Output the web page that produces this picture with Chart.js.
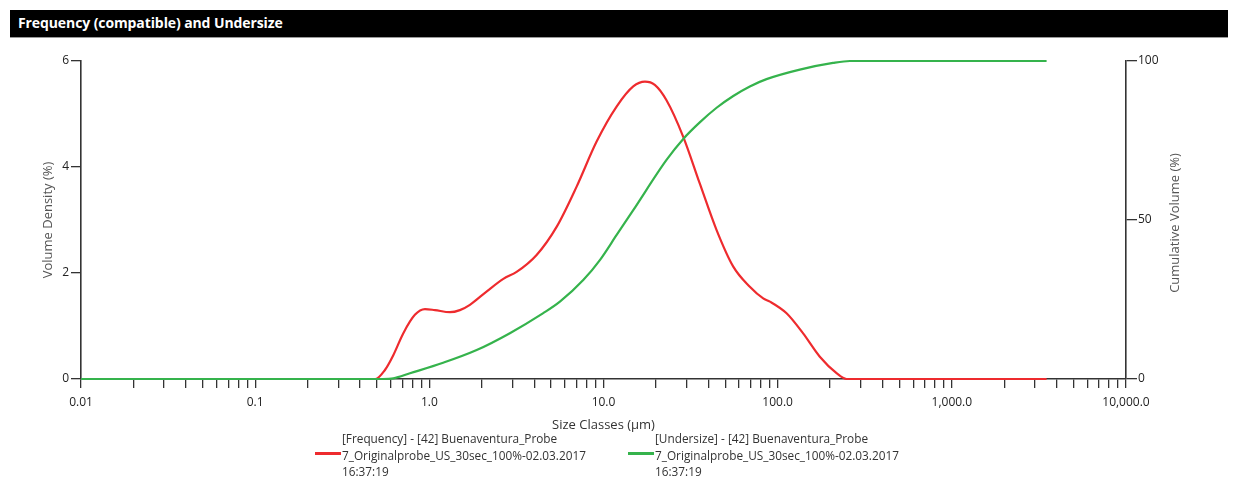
<!DOCTYPE html>
<html><head><meta charset="utf-8">
<script src="https://cdn.jsdelivr.net/npm/chart.js@4.4.0/dist/chart.umd.min.js"></script>
<style>
html,body{margin:0;padding:0;background:#fff;}
#wrap{position:relative;width:1233px;height:477px;overflow:hidden;font-family:'Open Sans',sans-serif;}
#bar{position:absolute;left:10px;top:10px;width:1218px;height:27px;background:#000;border-bottom:1px solid #999;}
#bar span{position:absolute;left:8px;top:3px;color:#fff;font-weight:700;font-size:14px;letter-spacing:-0.1px;}
canvas{position:absolute;left:0;top:0;}
.leg{position:absolute;font-size:11.8px;color:#333;line-height:16.5px;white-space:nowrap;}
.sw{position:absolute;height:3px;width:26px;left:0;top:22px;}
.lt{position:absolute;left:27px;top:0;}
</style></head>
<body>
<div id="wrap">
  <canvas id="c" width="1233" height="477"></canvas>
  <div id="bar"><span id="title"></span></div>
  <div id="legend"></div>
</div>
<script>
const chartTitle = 'Frequency (compatible) and Undersize';
const freqSizes  = [0.01, 0.49, 0.556, 0.621, 0.708, 0.826, 0.944, 1.077, 1.313, 1.498, 1.71, 2.13, 2.66, 3.17, 4.13, 5.38, 7.01, 9.13, 11.89, 14.82, 17.3, 19.7, 23.0, 28.7, 35.7, 44.6, 55.6, 69.2, 82.6, 90.2, 112.5, 140, 174.6, 217.8, 248.6, 3500];
const freqValues = [0, 0, 0.17, 0.45, 0.86, 1.21, 1.32, 1.30, 1.26, 1.30, 1.40, 1.65, 1.89, 2.02, 2.34, 2.87, 3.63, 4.48, 5.14, 5.52, 5.61, 5.55, 5.26, 4.57, 3.69, 2.81, 2.12, 1.74, 1.52, 1.46, 1.24, 0.86, 0.42, 0.11, 0, 0];
const underSizes  = [0.01, 0.54, 0.621, 0.774, 1.20, 1.87, 2.90, 4.51, 5.62, 7.65, 9.53, 11.9, 14.82, 23.0, 28.7, 35.7, 44.6, 55.6, 69.2, 86.3, 134, 208, 260, 3500];
const underValues = [0, 0, 0.2, 1.8, 5.1, 9.1, 14.4, 20.7, 24.3, 31.1, 37.4, 45.3, 53.1, 68.9, 75.5, 80.7, 85.3, 89.0, 92.0, 94.3, 97.3, 99.4, 100, 100];
const xMajorTicks = [0.01, 0.1, 1, 10, 100, 1000, 10000];
const xTickLabels = ['0.01', '0.1', '1.0', '10.0', '100.0', '1,000.0', '10,000.0'];
const yLeftTicks  = [0, 2, 4, 6];
const yRightTicks = [0, 50, 100];
const xTitle = 'Size Classes (µm)';
const yLeftTitle = 'Volume Density (%)';
const yRightTitle = 'Cumulative Volume (%)';
const freqLegend  = ['[Frequency] - [42] Buenaventura_Probe', '7_Originalprobe_US_30sec_100%-02.03.2017', '16:37:19'];
const underLegend = ['[Undersize] - [42] Buenaventura_Probe', '7_Originalprobe_US_30sec_100%-02.03.2017', '16:37:19'];
const redColor = '#ee2b2e';
const greenColor = '#35b34c';

document.getElementById('title').textContent = chartTitle;

const legendItems = [
  {lines: freqLegend, color: redColor, left: 315},
  {lines: underLegend, color: greenColor, left: 628}
];
const legendEl = document.getElementById('legend');
legendItems.forEach(it => {
  const d = document.createElement('div');
  d.className = 'leg';
  d.style.left = it.left + 'px';
  d.style.top = '430px';
  const sw = document.createElement('div');
  sw.className = 'sw';
  sw.style.background = it.color;
  const t = document.createElement('div');
  t.className = 'lt';
  t.innerHTML = it.lines.map(s => s.replace(/&/g,'&amp;').replace(/</g,'&lt;')).join('<br>');
  d.appendChild(sw); d.appendChild(t);
  legendEl.appendChild(d);
});

const toPoints = (xs, ys) => xs.map((x, i) => ({x: x, y: ys[i]}));

const axisColor = '#333';
const tickFont = {family: "'Open Sans', sans-serif", size: 12};
const titleFont = {family: "'Open Sans', sans-serif", size: 13};

const rightTitlePlugin = {
  id: 'rightTitle',
  afterDraw(chart) {
    const s = chart.scales.y1;
    const ctx = chart.ctx;
    const ca = chart.chartArea;
    ctx.save();
    ctx.translate(s.left + 49, (ca.top + ca.bottom) / 2 + 3);
    ctx.rotate(-Math.PI / 2);
    ctx.fillStyle = '#555';
    ctx.font = "13px 'Open Sans', sans-serif";
    ctx.textAlign = 'center';
    ctx.textBaseline = 'middle';
    ctx.fillText(yRightTitle, 0, 0);
    ctx.restore();
  }
};

new Chart(document.getElementById('c'), {
  type: 'line',
  data: {
    datasets: [
      {label: freqLegend.join(' '), data: toPoints(freqSizes, freqValues), borderColor: redColor, borderWidth: 2.2, pointRadius: 0, fill: false, cubicInterpolationMode: 'monotone', yAxisID: 'y', order: 1, clip: 6},
      {label: underLegend.join(' '), data: toPoints(underSizes, underValues), borderColor: greenColor, borderWidth: 2.2, pointRadius: 0, fill: false, cubicInterpolationMode: 'monotone', yAxisID: 'y1', order: 0, clip: 6}
    ]
  },
  options: {
    responsive: false,
    animation: false,
    devicePixelRatio: 1,
    layout: {padding: {top: 61, left: 0, right: 0, bottom: 0}},
    plugins: {legend: {display: false}, tooltip: {enabled: false}, title: {display: false}},
    scales: {
      x: {
        type: 'logarithmic', position: 'bottom', min: 0.01, max: 10000,
        afterBuildTicks: s => {
          const t = [];
          for (let i = 0; i < xMajorTicks.length - 1; i++) {
            for (let m = 1; m <= 9; m++) t.push({value: m * xMajorTicks[i]});
          }
          t.push({value: xMajorTicks[xMajorTicks.length - 1]});
          s.ticks = t;
        },
        afterFit: s => { s.height = 98; },
        ticks: {
          autoSkip: false, maxRotation: 0, minRotation: 0, padding: 7, color: '#222', font: tickFont,
          callback: (v) => {
            const idx = xMajorTicks.findIndex(m => Math.abs(Math.log10(m) - Math.log10(v)) < 1e-6);
            return idx >= 0 ? xTickLabels[idx] : '';
          }
        },
        grid: {drawOnChartArea: false, drawTicks: true, tickLength: 9, color: axisColor, lineWidth: 1.3},
        border: {display: true, color: axisColor, width: 1.6},
        title: {display: true, text: xTitle, color: '#333', font: titleFont, padding: {top: 0, bottom: 44}}
      },
      y: {
        type: 'linear', position: 'left', min: 0, max: 6,
        afterBuildTicks: s => { s.ticks = yLeftTicks.map(v => ({value: v})); },
        afterFit: s => { s.width = 81; },
        ticks: {padding: 2, color: '#222', font: tickFont},
        grid: {drawOnChartArea: false, drawTicks: true, tickLength: 10, color: axisColor, lineWidth: 1.3},
        border: {display: true, color: axisColor, width: 1.6},
        title: {display: true, text: yLeftTitle, color: '#555', font: titleFont, padding: {top: 40, bottom: 0}}
      },
      y1: {
        type: 'linear', position: 'right', min: 0, max: 100,
        afterBuildTicks: s => { s.ticks = yRightTicks.map(v => ({value: v})); },
        afterFit: s => { s.width = 107; },
        ticks: {padding: 1, color: '#222', font: tickFont},
        grid: {drawOnChartArea: false, drawTicks: true, tickLength: 11, color: axisColor, lineWidth: 1.3},
        border: {display: true, color: axisColor, width: 1.6}
      }
    }
  },
  plugins: [rightTitlePlugin]
});
</script>
</body></html>
